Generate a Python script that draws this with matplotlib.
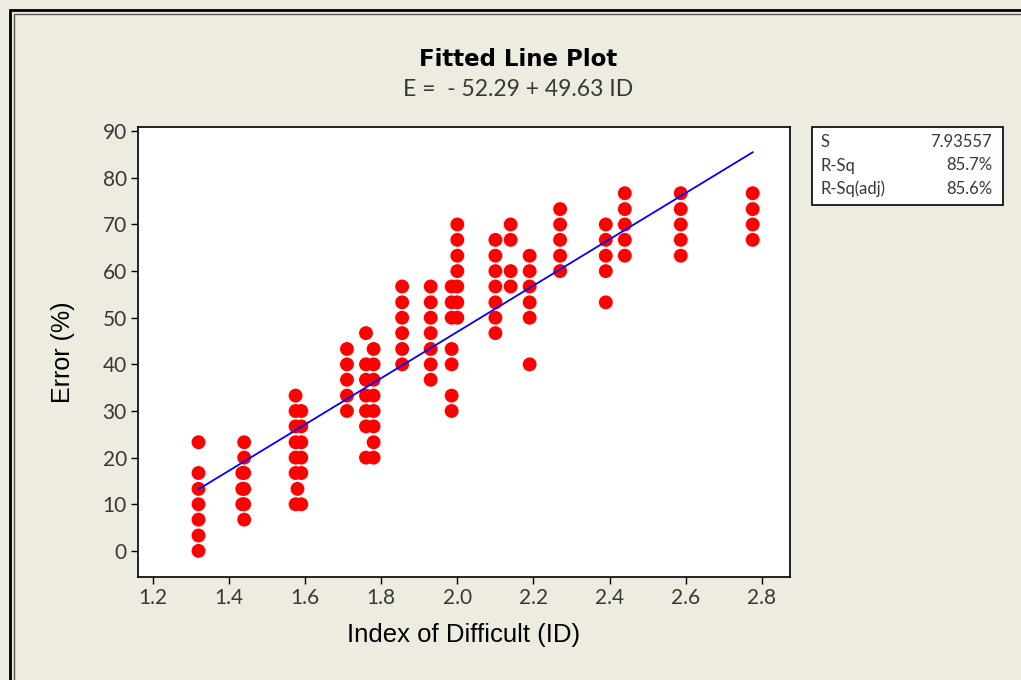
import matplotlib
matplotlib.use("Agg")
from matplotlib import pyplot as plt
from matplotlib.patches import Rectangle
import numpy as np

# columns of observations: index of difficulty and the errors seen there
id_groups = [1.32, 1.435, 1.44, 1.575, 1.58, 1.59, 1.71, 1.76, 1.78, 1.855,
             1.93, 1.985, 2.00, 2.10, 2.14, 2.19, 2.27, 2.39, 2.44, 2.587, 2.776]
error_groups = [
    [0, 3.3, 6.7, 10, 13.3, 16.7, 23.3],
    [10, 13.3, 16.7],
    [6.7, 10, 13.3, 16.7, 20, 23.3],
    [10, 16.7, 20, 23.3, 26.7, 30, 33.3],
    [13.3],
    [10, 16.7, 20, 23.3, 26.7, 30],
    [30, 33.3, 36.7, 40, 43.3],
    [20, 26.7, 30, 33.3, 36.7, 40, 46.7],
    [20, 23.3, 26.7, 30, 33.3, 36.7, 40, 43.3],
    [40, 43.3, 46.7, 50, 53.3, 56.7],
    [36.7, 40, 43.3, 46.7, 50, 53.3, 56.7],
    [30, 33.3, 40, 43.3, 50, 53.3, 56.7],
    [50, 53.3, 56.7, 60, 63.3, 66.7, 70],
    [46.7, 50, 53.3, 56.7, 60, 63.3, 66.7],
    [56.7, 60, 66.7, 70],
    [40, 50, 53.3, 56.7, 60, 63.3],
    [60, 63.3, 66.7, 70, 73.3],
    [53.3, 60, 63.3, 66.7, 70],
    [63.3, 66.7, 70, 73.3, 76.7],
    [63.3, 66.7, 70, 73.3, 76.7],
    [66.7, 70, 73.3, 76.7],
]

intercept = -52.29
slope = 49.63
stat_names = ["S", "R-Sq", "R-Sq(adj)"]
stat_values = ["7.93557", "85.7%", "85.6%"]

x_ticks = [1.2, 1.4, 1.6, 1.8, 2.0, 2.2, 2.4, 2.6, 2.8]
y_ticks = [0, 10, 20, 30, 40, 50, 60, 70, 80, 90]

bg = "#EEEBE1"
thin = dict(family="Lato", fontweight="normal")
txt = "#383838"

ids = np.concatenate([[x] * len(e) for x, e in zip(id_groups, error_groups)])
errs = np.concatenate(error_groups)

fig = plt.figure(figsize=(10.21, 6.8), dpi=100, facecolor=bg)
W, H = 1021, 680

# double frame round the window
fig.patches.append(Rectangle((10 / W, -0.1), 1.2, (670 + 68) / H, transform=fig.transFigure,
                             fill=False, edgecolor="black", linewidth=2))
fig.patches.append(Rectangle((14 / W, -0.1), 1.2, (666 + 68) / H, transform=fig.transFigure,
                             fill=False, edgecolor="#555555", linewidth=1))

ax = fig.add_axes([138 / W, 1 - 577 / H, (790 - 138) / W, (577 - 127) / H])
ax.set_facecolor("white")

ax.scatter(ids, errs, s=100, color="#FF0000", edgecolors="none", zorder=3)
xs = np.array([ids.min(), ids.max()])
ax.plot(xs, intercept + slope * xs, color="#0000FF", linewidth=1.3, zorder=4)

ax.set_xlim(1.161, 2.874)
ax.set_ylim(-5.6, 90.9)
ax.set_xticks(x_ticks)
ax.set_xticklabels(["%.1f" % t for t in x_ticks], fontsize=15, **thin)
ax.set_yticks(y_ticks)
ax.set_yticklabels([str(t) for t in y_ticks], fontsize=15, **thin)
ax.tick_params(direction="out", length=5, width=1, color="black", labelcolor=txt, pad=3)
for sp in ax.spines.values():
    sp.set_linewidth(1.2)

ax.set_xlabel("Index of Difficult (ID)", fontsize=18.5, family="Liberation Sans", labelpad=11)
ax.set_ylabel("Error (%)", fontsize=18, family="Liberation Sans", labelpad=20)

fig.text(518 / W, 1 - 60 / H, "Fitted Line Plot", ha="center", va="center",
         fontsize=16.5, fontweight="bold", family="DejaVu Sans")
fig.text(518 / W, 1 - 90 / H, "E =  - 52.29 + 49.63 ID", ha="center", va="center",
         fontsize=16.5, color=txt, **thin)

# summary box
fig.patches.append(Rectangle((812 / W, 1 - 205 / H), (1003 - 812) / W, (205 - 127) / H,
                             transform=fig.transFigure, facecolor="white",
                             edgecolor="black", linewidth=1.2))
for i, (name, val) in enumerate(zip(stat_names, stat_values)):
    y = 1 - (142 + i * 23.5) / H
    fig.text(820 / W, y, name, ha="left", va="center", fontsize=12, color=txt, **thin)
    fig.text(992 / W, y, val, ha="right", va="center", fontsize=12, color=txt, **thin)

fig.savefig("out.png", dpi=100, facecolor=bg)
